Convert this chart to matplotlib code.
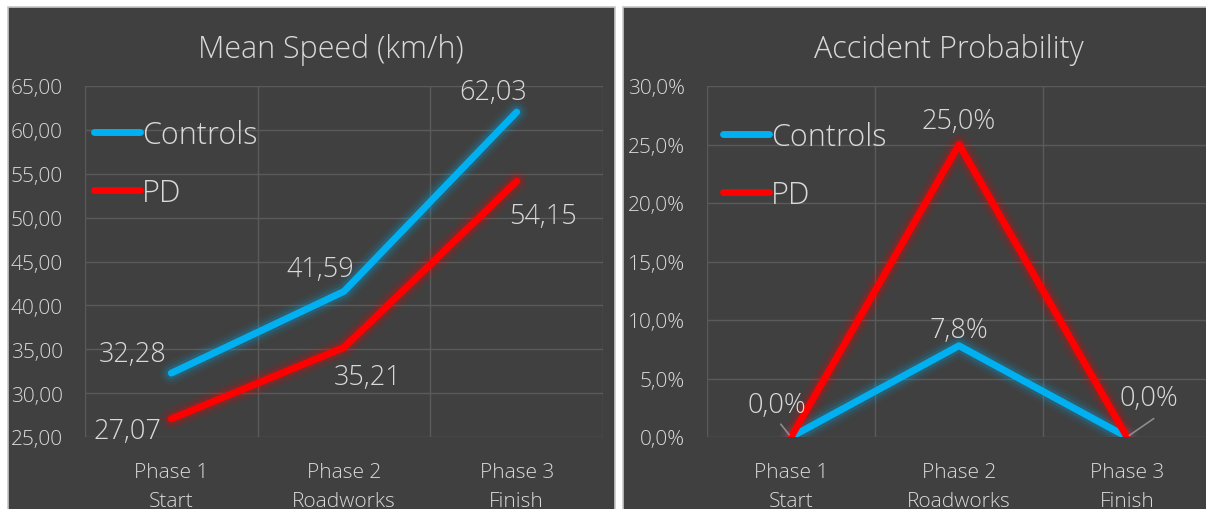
import matplotlib.pyplot as plt
from matplotlib.patches import Rectangle

# data
phases = ['Phase 1\nStart', 'Phase 2\nRoadworks', 'Phase 3\nFinish']
speed_controls = [32.28, 41.59, 62.03]
speed_pd = [27.07, 35.21, 54.15]
acc_controls = [0.0, 7.8, 0.0]
acc_pd = [0.0, 25.0, 0.0]
speed_ticks = [25, 30, 35, 40, 45, 50, 55, 60, 65]
acc_ticks = [0, 5, 10, 15, 20, 25, 30]

BG = '#404040'
GRID = '#5a5a5a'
TXT = '#d9d9d9'
BLUE = '#00b0f0'
RED = '#ff0000'

plt.rcParams['font.family'] = ['Open Sans', 'DejaVu Sans']
plt.rcParams['font.weight'] = 'light'

W, H = 1206, 510
fig = plt.figure(figsize=(W / 100, H / 100), dpi=100, facecolor='white')


def px(x0, y0, x1, y1):
    # pixel box (top-left origin) -> figure fraction rect
    return [x0 / W, 1 - y1 / H, (x1 - x0) / W, (y1 - y0) / H]


# panel backgrounds
for x0, x1 in [(8, 615), (623, 1212)]:
    fig.patches.append(Rectangle((x0 / W, -0.05), (x1 - x0) / W, 1 - 8 / H + 0.05,
                                 transform=fig.transFigure, facecolor=BG,
                                 edgecolor='#c8c8c8', linewidth=1.2, zorder=0))


def glow_line(ax, x, y, color, label):
    for lw, a in [(17, 0.05), (13, 0.09), (9, 0.16)]:
        ax.plot(x, y, color=color, lw=lw, alpha=a, solid_capstyle='round',
                solid_joinstyle='round', label='_nolegend_', zorder=3)
    ax.plot(x, y, color=color, lw=5, solid_capstyle='round',
            solid_joinstyle='round', label=label, zorder=4)


def style(ax, ticks, fmt, ylim):
    ax.set_zorder(2)
    ax.set_facecolor('none')
    ax.set_xlim(-0.5, 2.5)
    ax.set_ylim(*ylim)
    ax.set_yticks(ticks)
    ax.set_yticklabels([fmt(t) for t in ticks])
    ax.set_xticks(range(len(phases)))
    ax.set_xticklabels(phases, linespacing=1.6)
    ax.set_xticks([-0.5, 0.5, 1.5, 2.5], minor=True)
    ax.grid(True, which='major', axis='y', color=GRID, lw=1)
    ax.grid(True, which='minor', axis='x', color=GRID, lw=1)
    ax.tick_params(axis='both', which='both', length=0, colors=TXT, labelsize=15)
    ax.tick_params(axis='y', pad=16)
    ax.tick_params(axis='x', pad=18)
    for s in ax.spines.values():
        s.set_visible(False)


def label(ax, x, y, text, dx, dy):
    ax.annotate(text, (x, y), xytext=(dx, dy), textcoords='offset pixels',
                ha='center', va='center', color=TXT, fontsize=19.5, zorder=5)


def legend(ax, x0, y0):
    ax.legend(loc='upper left', bbox_to_anchor=(x0 / W, 1 - y0 / H),
              bbox_transform=fig.transFigure, frameon=False, fontsize=22,
              labelcolor=TXT, handlelength=1.5, handletextpad=0.08,
              labelspacing=0.85, borderpad=0, borderaxespad=0)


x = list(range(len(phases)))

# Mean speed
ax1 = fig.add_axes(px(85, 87, 603, 438))
style(ax1, speed_ticks, lambda t: f'{t:.2f}'.replace('.', ','), (25, 65))
glow_line(ax1, x, speed_controls, BLUE, 'Controls')
glow_line(ax1, x, speed_pd, RED, 'PD')
fmt2 = lambda v: f'{v:.2f}'.replace('.', ',')
for (i, v), (dx, dy) in zip(enumerate(speed_controls), [(-39, 19), (-24, 22), (-24, 20)]):
    label(ax1, i, v, fmt2(v), dx, dy)
for (i, v), (dx, dy) in zip(enumerate(speed_pd), [(-44, -12), (24, -30), (26, -35)]):
    label(ax1, i, v, fmt2(v), dx, dy)
fig.text(331 / W, 1 - 50 / H, 'Mean Speed (km/h)', ha='center', va='center',
         color=TXT, fontsize=22)
legend(ax1, 94, 120)

# Accident probability
ax2 = fig.add_axes(px(707, 87, 1211, 438))
style(ax2, acc_ticks, lambda t: f'{t:.1f}%'.replace('.', ','), (0, 30))
glow_line(ax2, x, acc_controls, BLUE, 'Controls')
glow_line(ax2, x, acc_pd, RED, 'PD')
fmt1 = lambda v: f'{v:.1f}%'.replace('.', ',')
label(ax2, 1, acc_pd[1], fmt1(acc_pd[1]), 0, 23)
label(ax2, 1, acc_controls[1], fmt1(acc_controls[1]), 0, 16)
label(ax2, 0, acc_pd[0], fmt1(acc_pd[0]), -14, 32)
label(ax2, 2, acc_controls[2], fmt1(acc_controls[2]), 22, 39)
# leader lines for the zero labels
ax2.annotate('', (0, 0), xytext=(-12, 15), textcoords='offset pixels',
             arrowprops=dict(arrowstyle='-', color='#8c8c8c', lw=1.2), zorder=5)
ax2.annotate('', (2, 0), xytext=(29, 20), textcoords='offset pixels',
             arrowprops=dict(arrowstyle='-', color='#8c8c8c', lw=1.2), zorder=5)
fig.text(949 / W, 1 - 50 / H, 'Accident Probability', ha='center', va='center',
         color=TXT, fontsize=22)
legend(ax2, 723, 122)

fig.savefig('out.png', dpi=100, facecolor='white')
